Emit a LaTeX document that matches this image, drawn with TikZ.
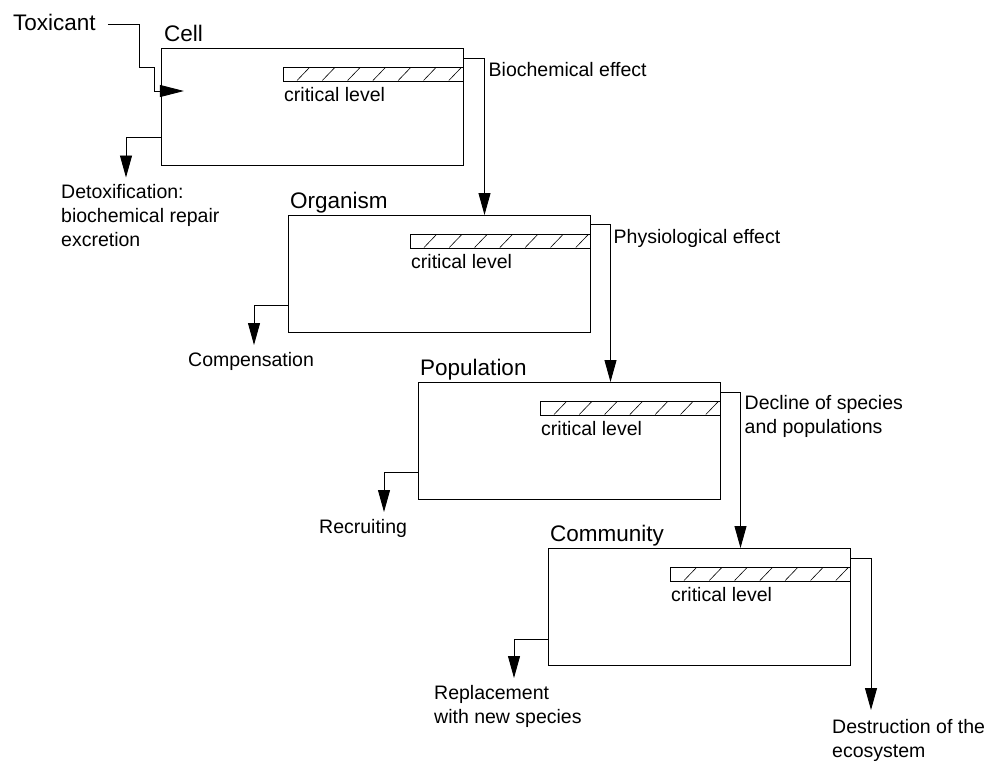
\documentclass[tikz,border=0pt]{standalone}
\usepackage{fontspec}
\setmainfont{Liberation Sans}
\usetikzlibrary{arrows.meta,calc}
\begin{document}
\begin{tikzpicture}[x=1pt,y=-1pt,
  box/.style={draw,line width=0.9pt,inner sep=0pt,outer sep=0pt,minimum width=302.5pt,minimum height=117.5pt,anchor=north west},
  critbar/.style={draw,line width=0.9pt,inner sep=0pt,outer sep=0pt,minimum width=180.5pt,minimum height=14pt,anchor=north east},
  hatch/.style={line width=0.6pt},
  conn/.style={line width=0.9pt},
  arr/.style={conn,-{Triangle[length=22pt,width=12pt]}},
  lvl/.style={font=\fontsize{22.5}{27}\selectfont,inner sep=0pt,anchor=base west},
  lab/.style={font=\fontsize{19.5}{24}\selectfont,inner sep=0pt,anchor=base west,align=left},
]
\useasboundingbox (0,0) rectangle (987,761);

% level boxes
\node[box] (cell) at (161,48) {};
\node[box] (org) at (288,215) {};
\node[box] (pop) at (418,382) {};
\node[box] (com) at (548,548) {};

% level names
\node[lvl] (celllab) at ($(cell.north west)+(3,-6.5)$) {Cell};
\node[lvl] (orglab) at ($(org.north west)+(2,-6.5)$) {Organism};
\node[lvl] (poplab) at ($(pop.north west)+(2,-6.5)$) {Population};
\node[lvl] (comlab) at ($(com.north west)+(2,-6.5)$) {Community};

% critical level bars
\foreach \b in {cell,org,pop,com}{
  \node[critbar] (\b bar) at ([yshift=-19pt]\b.north east) {};
  \foreach \k in {0,...,6}{
    \draw[hatch] ($(\b bar.south west)+(14+\k*25.3,-0.5)$) -- ++(12.5,-13);
  }
  \node[lab] (\b crit) at ($(\b bar.south west)+(1,20.5)$) {critical level};
}

% toxicant input
\node[lvl] (tox) at (13,30) {Toxicant};
\draw[conn,-{Triangle[length=24pt,width=12pt]}] ($(tox.base east)+(12,-6)$) -- ++(32,0) -- ++(0,43) -- ++(15,0) -- ++(0,24) -- ++(29,0);

% right connectors (effects)
\draw[arr] ([yshift=-10pt]cell.north east) -- ++(21,0) coordinate (c1) -- (c1 |- org.north);
\node[lab] (bio) at ($(c1)+(4,18)$) {Biochemical effect};
\draw[arr] ([yshift=-9pt]org.north east) -- ++(20,0) coordinate (c2) -- (c2 |- pop.north);
\node[lab] (phys) at ($(c2)+(3,19)$) {Physiological effect};
\draw[arr] ([yshift=-10pt]pop.north east) -- ++(20,0) coordinate (c3) -- (c3 |- com.north);
\node[lab] (decl) at ($(c3)+(4,41)$) {Decline of species\\and populations};
\coordinate (dtip) at (871,710);
\draw[arr] ([yshift=-10pt]com.north east) -| (dtip);
\node[lab] (destr) at ($(dtip)+(-39,47)$) {Destruction of the\\ecosystem};

% left connectors (repair)
\draw[arr] ([yshift=-89.5pt]cell.north west) -- ++(-35,0) -- ++(0,40) coordinate (t1);
\node[lab] (detox) at ($(t1)+(-65,69)$) {Detoxification:\\biochemical repair\\excretion};
\draw[arr] ([yshift=-90pt]org.north west) -- ++(-34,0) -- ++(0,40) coordinate (t2);
\node[lab] (comp) at ($(t2)+(-66,21)$) {Compensation};
\draw[arr] ([yshift=-90pt]pop.north west) -- ++(-34,0) -- ++(0,40) coordinate (t3);
\node[lab] (recr) at ($(t3)+(-65,21)$) {Recruiting};
\draw[arr] ([yshift=-91pt]com.north west) -- ++(-34,0) -- ++(0,39) coordinate (t4);
\node[lab] (repl) at ($(t4)+(-80,45)$) {Replacement\\with new species};
\end{tikzpicture}
\end{document}
